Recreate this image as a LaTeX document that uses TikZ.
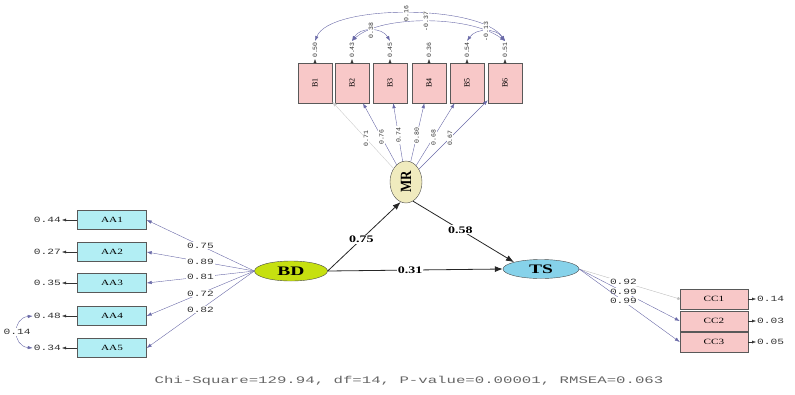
\documentclass[tikz,border=0pt]{standalone}
\usepackage{fontspec}
\usetikzlibrary{shapes.geometric,arrows.meta}
\newfontfamily\numfont{Liberation Mono}
\newfontfamily\boxfont{Liberation Serif}
\definecolor{aacyan}{HTML}{B2EEF4}
\definecolor{boxpink}{HTML}{F8C8C8}
\definecolor{bdgreen}{HTML}{C6E010}
\definecolor{mrcream}{HTML}{F0EBBE}
\definecolor{tsblue}{HTML}{86D2EA}
\definecolor{loadblue}{HTML}{6A6AA8}
\newcommand{\wide}[1]{\scalebox{1.4}[1]{#1}}

\begin{document}
\begin{tikzpicture}[x=1pt,y=-1pt]
\tikzstyle{obs} = [draw=black!65,rectangle,thin,inner sep=0pt,font=\boxfont\fontsize{8}{9}\selectfont]
\tikzstyle{aabox} = [obs,fill=aacyan,minimum width=69pt,minimum height=19pt]
\tikzstyle{bbox} = [obs,fill=boxpink,minimum width=34pt,minimum height=40pt]
\tikzstyle{ccbox} = [obs,fill=boxpink,minimum width=68pt,minimum height=20pt]
\tikzstyle{lat} = [draw=black!70,ellipse,thin,inner sep=0pt,font=\boxfont\bfseries\fontsize{13}{15}\selectfont]
\tikzstyle{num} = [font=\numfont\fontsize{8}{9}\selectfont,inner sep=1pt,text=black!80]
\tikzstyle{vnum} = [num,rotate=90,font=\numfont\fontsize{6.5}{7}\selectfont]
\tikzstyle{coef} = [font=\boxfont\bfseries\fontsize{10}{12}\selectfont,fill=white,inner sep=1pt]
\tikzstyle{loading} = [-{Latex[length=5pt,width=3.5pt]},thin,draw=loadblue]
\tikzstyle{error} = [-{Latex[length=4pt,width=3pt]},thin,draw=black!80]
\tikzstyle{cov} = [{Latex[length=5pt,width=3.5pt]}-{Latex[length=5pt,width=3.5pt]},thin,draw=loadblue]
\tikzstyle{connector} = [-{Latex[length=8pt,width=6pt]},thick,draw=black!85]
\useasboundingbox (0,0) rectangle (795,394);

% BD and its indicators
\node[aabox](aa1) at (112,220) {\wide{AA1}};
\node[aabox](aa2) at (112,252) {\wide{AA2}};
\node[aabox](aa3) at (112,283) {\wide{AA3}};
\node[aabox](aa4) at (112,316) {\wide{AA4}};
\node[aabox](aa5) at (112,348) {\wide{AA5}};
\node[num,anchor=east](ea1) at (62,220) {\wide{0.44}};
\node[num,anchor=east](ea2) at (62,252) {\wide{0.27}};
\node[num,anchor=east](ea3) at (62,283) {\wide{0.35}};
\node[num,anchor=east](ea4) at (62,316) {\wide{0.48}};
\node[num,anchor=east](ea5) at (62,348) {\wide{0.34}};
\node[lat,fill=bdgreen,minimum width=73pt,minimum height=20pt](bd) at (291,271) {\scalebox{1.5}[1]{BD}};

\draw [loading] (bd.west) -- node[num,fill=white] {\wide{0.75}} (aa1.east);
\draw [loading] (bd.west) -- node[num,fill=white] {\wide{0.89}} (aa2.east);
\draw [loading] (bd.west) -- node[num,fill=white] {\wide{0.81}} (aa3.east);
\draw [loading] (bd.west) -- node[num,fill=white] {\wide{0.72}} (aa4.east);
\draw [loading] (bd.west) -- node[num,fill=white] {\wide{0.82}} (aa5.east);
\draw [error] (aa1) -- (ea1);
\draw [error] (aa2) -- (ea2);
\draw [error] (aa3) -- (ea3);
\draw [error] (aa4) -- (ea4);
\draw [error] (aa5) -- (ea5);
\draw [cov] (ea4.west) .. controls (12,318) and (12,346) .. node[num,fill=white] {\wide{0.14}} (ea5.west);

% MR and its indicators
\node[lat,fill=mrcream,minimum width=32pt,minimum height=42pt](mr) at (406,182) {\rotatebox{90}{\scalebox{1}[1.2]{MR}}};
\node[bbox](b1) at (315,83) {\rotatebox{90}{B1}};
\node[bbox](b2) at (352,83) {\rotatebox{90}{B2}};
\node[bbox](b3) at (390,83) {\rotatebox{90}{B3}};
\node[bbox](b4) at (429,83) {\rotatebox{90}{B4}};
\node[bbox](b5) at (467,83) {\rotatebox{90}{B5}};
\node[bbox](b6) at (505,83) {\rotatebox{90}{B6}};
\node[vnum](eb1) at (315,50) {0.50};
\node[vnum](eb2) at (352,50) {0.43};
\node[vnum](eb3) at (390,50) {0.45};
\node[vnum](eb4) at (429,50) {0.36};
\node[vnum](eb5) at (467,50) {0.54};
\node[vnum](eb6) at (505,50) {0.51};

\draw [loading,draw=black!20] (mr) -- node[vnum,fill=white,pos=0.45] {0.71} (b1);
\draw [loading] (mr) -- node[vnum,fill=white,pos=0.45] {0.76} (b2);
\draw [loading] (mr) -- node[vnum,fill=white,pos=0.45] {0.74} (b3);
\draw [loading] (mr) -- node[vnum,fill=white,pos=0.45] {0.80} (b4);
\draw [loading] (mr) -- node[vnum,fill=white,pos=0.45] {0.68} (b5);
\draw [loading] (mr) -- node[vnum,fill=white,pos=0.45] {0.67} (b6);
\draw [error] (b1) -- (eb1);
\draw [error] (b2) -- (eb2);
\draw [error] (b3) -- (eb3);
\draw [error] (b4) -- (eb4);
\draw [error] (b5) -- (eb5);
\draw [error] (b6) -- (eb6);
\draw [cov] (eb1.east) .. controls (330,4) and (480,4) .. node[vnum,fill=white] {0.16} (eb6.east);
\draw [cov] (eb2.east) .. controls (380,15) and (470,15) .. node[vnum,fill=white] {-0.37} (eb6.east);
\draw [cov] (eb2.east) .. controls (360,27) and (382,27) .. node[vnum,fill=white] {0.38} (eb3.east);
\draw [cov] (eb5.east) .. controls (476,28) and (496,28) .. node[vnum,fill=white] {-0.13} (eb6.east);

% TS and its indicators
\node[lat,fill=tsblue,minimum width=76pt,minimum height=19pt](ts) at (541,269) {\scalebox{1.5}[1]{TS}};
\node[ccbox](cc1) at (714,299) {\wide{CC1}};
\node[ccbox](cc2) at (714,321) {\wide{CC2}};
\node[ccbox](cc3) at (714,342) {\wide{CC3}};
\node[num,anchor=west](ec1) at (756,299) {\wide{0.14}};
\node[num,anchor=west](ec2) at (756,321) {\wide{0.03}};
\node[num,anchor=west](ec3) at (756,342) {\wide{0.05}};

\draw [loading,draw=black!25,-{Circle[length=3pt]}] (ts.east) -- node[num,fill=white,pos=0.44] {\wide{0.92}} (cc1.west);
\draw [loading] (ts.east) -- node[num,fill=white,pos=0.44] {\wide{0.99}} (cc2.west);
\draw [loading] (ts.east) -- node[num,fill=white,pos=0.44] {\wide{0.99}} (cc3.west);
\draw [error] (cc1) -- (ec1);
\draw [error] (cc2) -- (ec2);
\draw [error] (cc3) -- (ec3);

% structural paths
\draw [connector] (bd.east) -- node[coef,pos=0.46] {\wide{0.75}} (mr.255);
\draw [connector] (mr.290) -- node[coef,pos=0.47] {\wide{0.58}} (ts.north west);
\draw [connector] (bd.east) -- node[coef,pos=0.47] {\wide{0.31}} (ts.west);

\node[font=\numfont\fontsize{10}{12}\selectfont,text=black!60](fit) at (409,381) {\scalebox{1.57}[1]{Chi-Square=129.94, df=14, P-value=0.00001, RMSEA=0.063}};
\end{tikzpicture}
\end{document}
